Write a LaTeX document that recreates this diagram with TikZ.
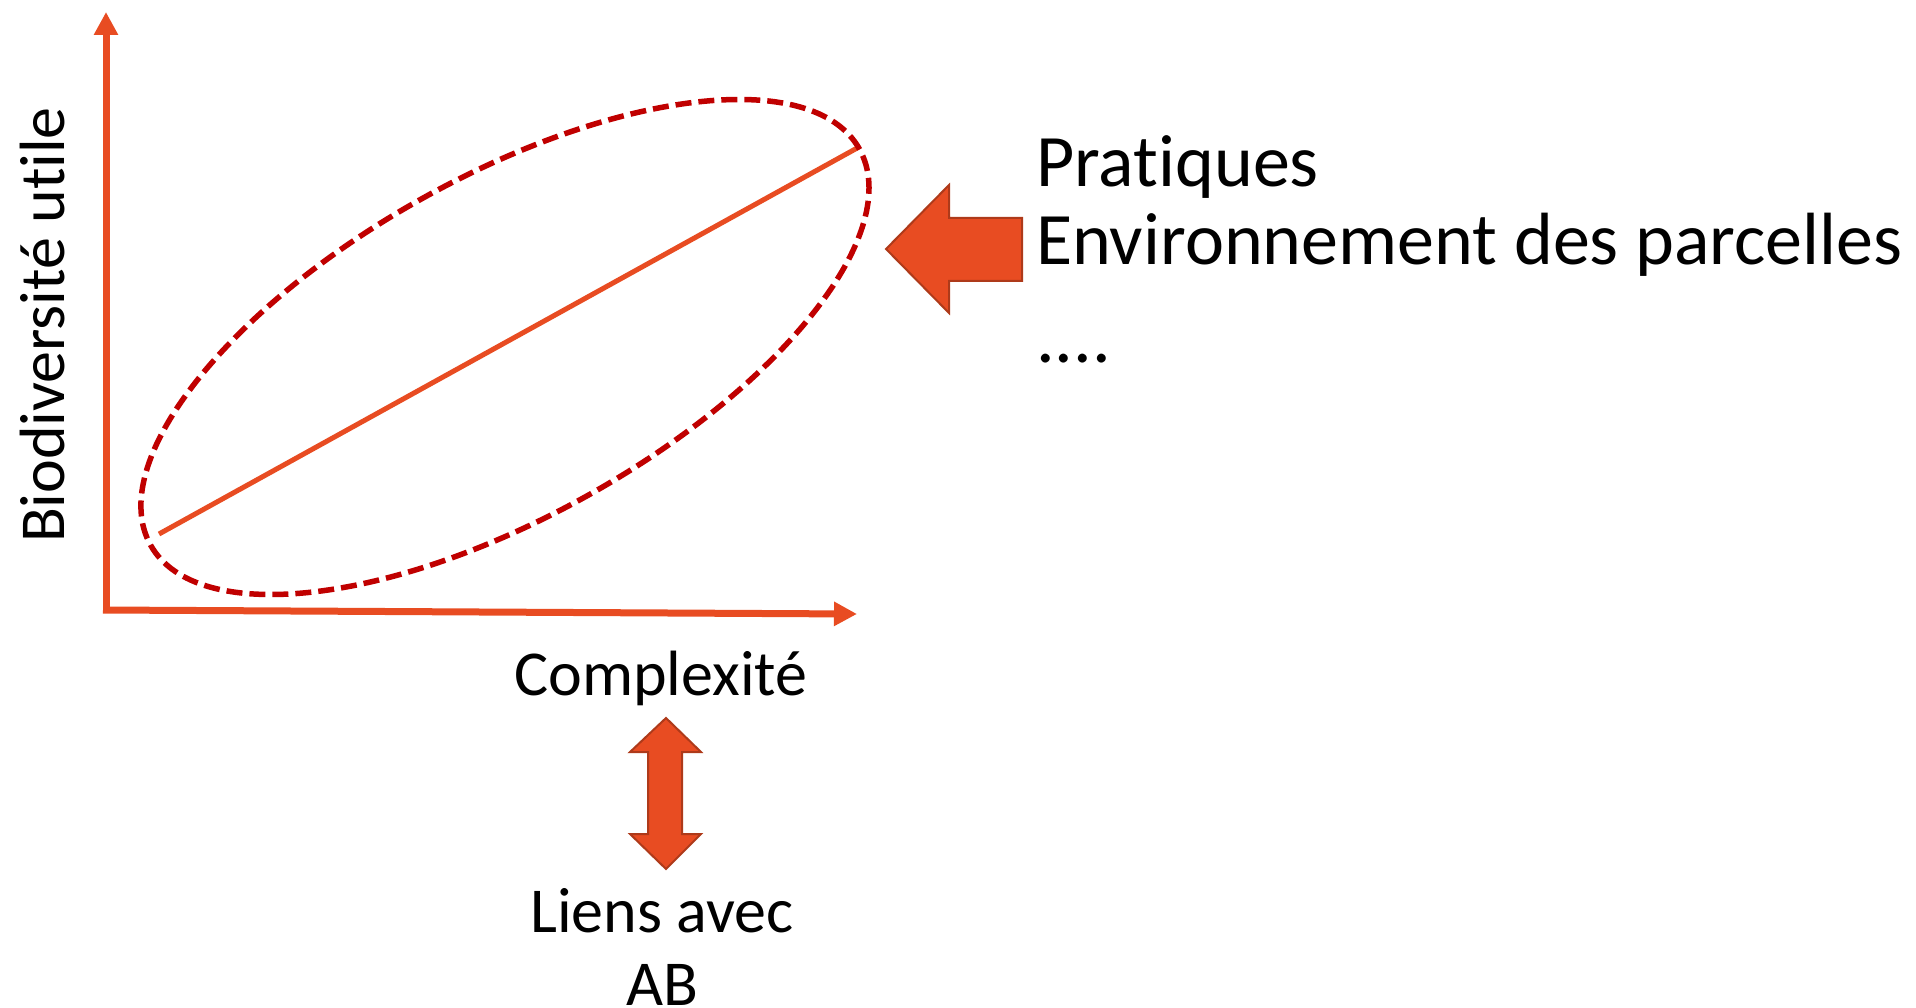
\documentclass[tikz,border=0pt]{standalone}
\usepackage{fontspec}
\setmainfont{Carlito}[Ligatures=NoCommon]
\usetikzlibrary{arrows.meta}
\definecolor{axisor}{HTML}{E84C22}
\definecolor{blockedge}{HTML}{AE3A1A}
\definecolor{ellred}{HTML}{C00000}
\tikzset{
  axisline/.style={axisor, line width=7pt, -{Triangle[width=23pt,length=23pt]}},
  trendline/.style={axisor, line width=5pt},
  ellline/.style={ellred, line width=5.5pt, dash pattern=on 16pt off 7pt},
  blockarrow/.style={fill=axisor, draw=blockedge, line width=2pt, line join=miter},
  lbl/.style={inner sep=0pt, font=\fontsize{64}{73}\selectfont, text=black},
  biglbl/.style={inner sep=0pt, font=\fontsize{74}{84}\selectfont, text=black},
}
\begin{document}
\begin{tikzpicture}[x=1pt,y=-1pt]
\useasboundingbox (0,0) rectangle (1916,1008);
% axes
\coordinate (origin) at (106,611);
\coordinate (ytip) at (106,12);
\coordinate (xstart) at (103,610);
\coordinate (xtip) at (857,614);
\draw[axisline] (origin) -- (ytip);
\draw[axisline] (xstart) -- (xtip);
% trend line
\coordinate (tl1) at (159,534);
\coordinate (tl2) at (859,147);
\draw[trendline] (tl1) -- (tl2);
% ellipse
\coordinate (ec) at (505,347);
\draw[ellline, rotate around={29.2:(ec)}] (ec) ellipse [x radius=406pt, y radius=170pt];
% left block arrow
\draw[blockarrow] (886,249) -- (949,185) -- (949,218) -- (1022,218) -- (1022,281) -- (949,281) -- (949,313) -- cycle;
% double arrow
\draw[blockarrow] (666,718) -- (701,752) -- (682,752) -- (682,834) -- (701,834) -- (666,869) -- (630,834) -- (648,834) -- (648,752) -- (630,752) -- cycle;
% texts
\node[lbl, rotate=90] (ylab) at (43,325) {Biodiversité utile};
\node[lbl] (xlab) at (661,678) {Complexité};
\node[lbl, align=center] (liens) at (662,947) {Liens avec\\AB};
\node[biglbl, anchor=base west] (prat) at (1036,187) {Pratiques};
\node[biglbl, anchor=base west] (env) at (1036,265) {Environnement des parcelles};
\node[biglbl, anchor=base west] (dots) at (1036,362) {....};
\end{tikzpicture}
\end{document}
